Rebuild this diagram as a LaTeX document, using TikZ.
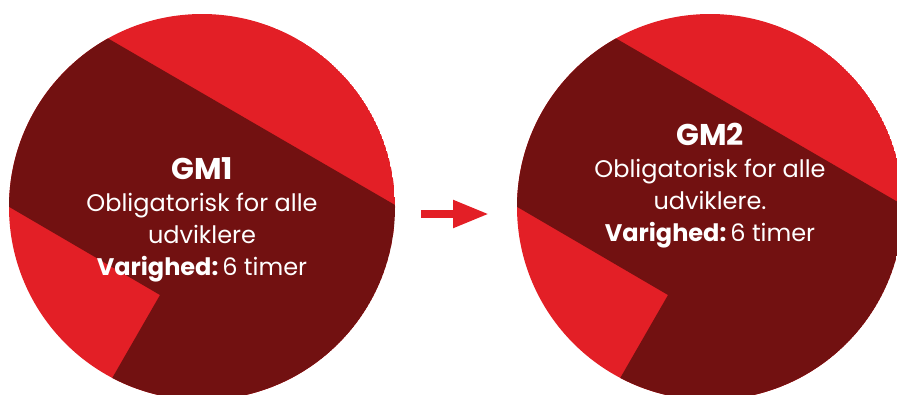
\documentclass[tikz,border=0pt]{standalone}
\usepackage{fontspec}
\setmainfont{Poppins}
\usetikzlibrary{arrows.meta}
\definecolor{lightred}{HTML}{E31F26}
\definecolor{darkred}{HTML}{721111}
\tikzset{
  txt/.style={text=white, align=center, inner sep=0pt, anchor=north,
    font=\fontsize{24}{32}\selectfont},
  flow/.style={draw=lightred, line width=8pt, -{Triangle[length=36pt,width=26pt]}}
}
\newcommand{\disc}[1]{%
  \begin{scope}[xshift=#1pt]
    \clip (202,207) circle[radius=193pt];
    \fill[lightred] (202,207) circle[radius=193pt];
    \fill[darkred] (-34,-44) -- (538,288) -- (538,500) -- (42,500) -- (160,295) -- (-66,163) -- cycle;
  \end{scope}}
\begin{document}
\begin{tikzpicture}[x=1pt,y=-1pt]
\useasboundingbox (0,0) rectangle (897,394);
\disc{0}
\disc{508}
\node[txt] (t1) at (202,157) {{\fontsize{30}{32}\selectfont\bfseries GM1}\\Obligatorisk for alle\\udviklere\\\textbf{Varighed:}\,6 timer};
\node[txt] (t2) at (710,123) {{\fontsize{30}{32}\selectfont\bfseries GM2}\\Obligatorisk for alle\\udviklere.\\\textbf{Varighed:}\,6 timer};
\coordinate (a1) at (421,214);
\coordinate (a2) at (489,214);
\draw[flow] (a1) -- (a2);
\end{tikzpicture}
\end{document}
